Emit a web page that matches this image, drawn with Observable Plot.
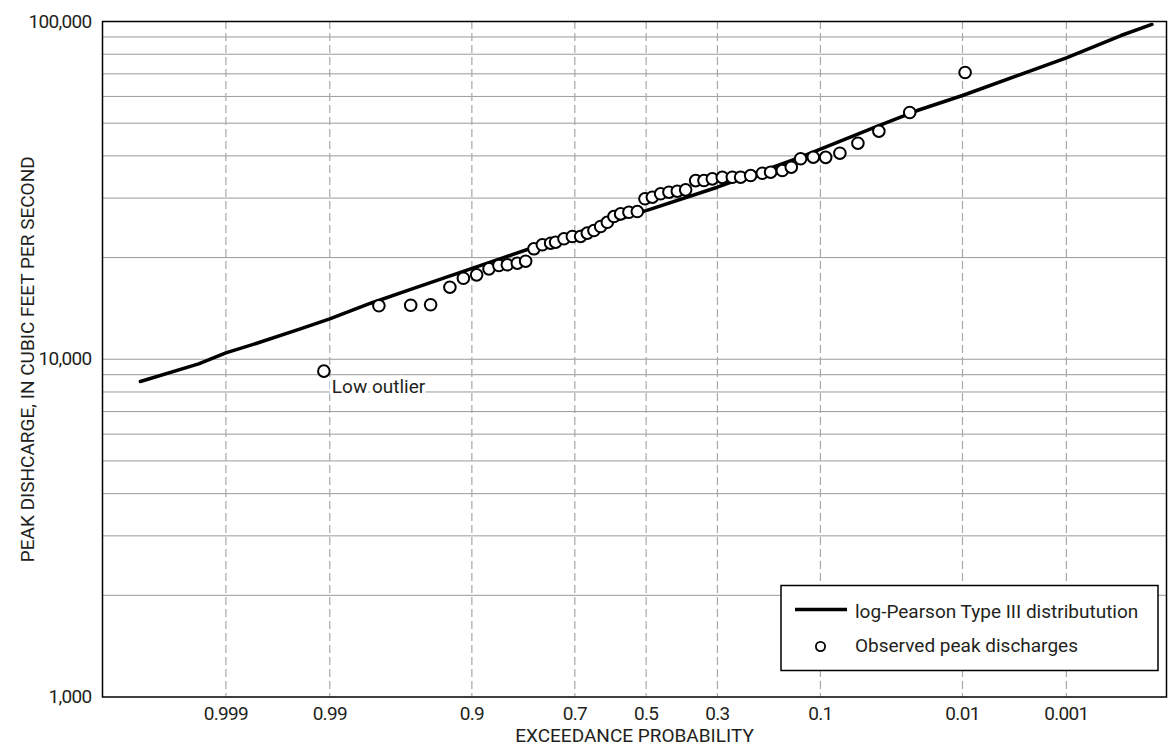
<!DOCTYPE html>
<html>
<head>
<meta charset="utf-8">
<script src="https://cdn.jsdelivr.net/npm/d3@7"></script>
<script src="https://cdn.jsdelivr.net/npm/@observablehq/plot@0.6"></script>
<style>
  body { margin: 0; background: #fff; }
  #chart { width: 1174px; height: 749px; }
  #chart svg { font-family: Roboto, "Liberation Sans", sans-serif; }
  #chart svg .tick-label text { letter-spacing: -0.7px; }
</style>
</head>
<body>
<div id="chart"></div>
<script>
// Exceedance-probability ticks and their labels
const probTicks = [0.999, 0.99, 0.9, 0.7, 0.5, 0.3, 0.1, 0.01, 0.001];
const probLabels = ["0.999", "0.99", "0.9", "0.7", "0.5", "0.3", "0.1", "0.01", "0.001"];
// Probability extent of the plotting frame (left, right)
const probExtent = [0.999968, 0.000065];

// Discharge ticks (labelled) and grid lines
const dischargeTicks = [1000, 10000, 100000];
const dischargeGrid = [2000, 3000, 4000, 5000, 6000, 7000, 8000, 9000, 10000,
  20000, 30000, 40000, 50000, 60000, 70000, 80000, 90000];

// Observed annual peak discharges with their plotting positions
const obsProb = [0.9911, 0.9753, 0.9583, 0.9435, 0.9255, 0.9105, 0.8937, 0.8761, 0.8605, 0.8463,
  0.8282, 0.8122, 0.7953, 0.7773, 0.7587, 0.7471, 0.7272, 0.7063, 0.6850, 0.6673,
  0.6494, 0.6310, 0.6123, 0.5936, 0.5744, 0.5503, 0.5258, 0.5035, 0.4818, 0.4576,
  0.4334, 0.4093, 0.3857, 0.3579, 0.3354, 0.3132, 0.2877, 0.2631, 0.2436, 0.2211,
  0.1964, 0.1800, 0.1583, 0.1429, 0.1280, 0.1095, 0.0934, 0.0771, 0.0597, 0.0435,
  0.0263, 0.0095];
const obsPeak = [9220, 14400, 14450, 14500, 16340, 17370, 17780, 18520, 18950, 19040,
  19250, 19510, 21230, 21820, 22060, 22210, 22730, 23090, 23100, 23620,
  24050, 24720, 25440, 26460, 26940, 27240, 27370, 29860, 30180, 30890,
  31230, 31440, 31740, 33800, 33820, 34210, 34550, 34580, 34600, 34990,
  35540, 35790, 36200, 37030, 39220, 39650, 39600, 40740, 43620, 47340,
  53770, 70630];

// Fitted log-Pearson Type III frequency curve
const fitProb = [0.9999, 0.9995, 0.999, 0.9979, 0.9945, 0.99, 0.9786, 0.9583, 0.9015, 0.7953,
  0.7038, 0.5, 0.3003, 0.128, 0.0435, 0.0231, 0.01, 0.001, 0.00024, 0.0001];
const fitPeak = [8590, 9690, 10440, 11150, 12300, 13170, 14650, 16100, 18520, 21460,
  23520, 27560, 32310, 39660, 49210, 54510, 60380, 78080, 90890, 98000];

const outlierLabel = "Low outlier";
const legendItems = ["log-Pearson Type III distributution", "Observed peak discharges"];

// Inverse standard normal CDF (Acklam's rational approximation)
function qnorm(p) {
  const a = [-39.69683028665376, 220.9460984245205, -275.9285104469687, 138.3577518672690, -30.66479806614716, 2.506628277459239];
  const b = [-54.47609879822406, 161.5858368580409, -155.6989798598866, 66.80131188771972, -13.28068155288572];
  const c = [-0.007784894002430293, -0.3223964580411365, -2.400758277161838, -2.549732539343734, 4.374664141464968, 2.938163982698783];
  const d = [0.007784695709041462, 0.3224671290700398, 2.445134137142996, 3.754408661907416];
  const pl = 0.02425, ph = 1 - pl;
  let q, r;
  if (p < pl) {
    q = Math.sqrt(-2 * Math.log(p));
    return (((((c[0]*q+c[1])*q+c[2])*q+c[3])*q+c[4])*q+c[5]) / ((((d[0]*q+d[1])*q+d[2])*q+d[3])*q+1);
  }
  if (p <= ph) {
    q = p - 0.5; r = q * q;
    return (((((a[0]*r+a[1])*r+a[2])*r+a[3])*r+a[4])*r+a[5])*q / (((((b[0]*r+b[1])*r+b[2])*r+b[3])*r+b[4])*r+1);
  }
  q = Math.sqrt(-2 * Math.log(1 - p));
  return -(((((c[0]*q+c[1])*q+c[2])*q+c[3])*q+c[4])*q+c[5]) / ((((d[0]*q+d[1])*q+d[2])*q+d[3])*q+1);
}
// Normal-probability position: exceedance probability decreases to the right
const probit = (p) => qnorm(1 - p);

const observed = obsProb.map((p, i) => ({p, q: obsPeak[i]}));
const fitted = fitProb.map((p, i) => ({p, q: fitPeak[i]}));
const tickZ = probTicks.map(probit);
const labelFor = new Map(tickZ.map((z, i) => [z, probLabels[i]]));

const W = 1174, H = 749;
const mL = 102, mR = 8, mT = 21, mB = 52.5;
const ink = "#231f20";

const chart = Plot.plot({
  width: W,
  height: H,
  marginLeft: mL,
  marginRight: mR,
  marginTop: mT,
  marginBottom: mB,
  style: {fontSize: "19px", color: ink, background: "#fff", overflow: "visible"},
  x: {type: "linear", domain: probExtent.map(probit)},
  y: {type: "log", domain: [1000, 100000]},
  marks: [
    Plot.gridY(dischargeGrid, {stroke: "#9a9a9a", strokeOpacity: 1, strokeWidth: 1}),
    Plot.gridX(tickZ, {stroke: "#a8a8a8", strokeOpacity: 1, strokeWidth: 1.2, strokeDasharray: "8,4"}),
    Plot.axisX(tickZ, {
      tickSize: 0, tickPadding: 9, fontSize: 19, className: "tick-label",
      tickFormat: (z) => labelFor.get(z),
      label: null
    }),
    Plot.axisX({
      ticks: [], label: "EXCEEDANCE PROBABILITY", labelAnchor: "center", labelArrow: false,
      labelOffset: 45, fontSize: 19, tickSize: 0
    }),
    Plot.axisY(dischargeTicks, {
      tickSize: 0, tickPadding: 11, fontSize: 19, className: "tick-label",
      tickFormat: d3.format(","),
      label: null
    }),
    Plot.axisY({
      ticks: [], label: "PEAK DISHCARGE, IN CUBIC FEET PER SECOND", labelAnchor: "center", labelArrow: false,
      labelOffset: 82, fontSize: 19, tickSize: 0
    }),
    Plot.line(fitted, {x: (d) => probit(d.p), y: "q", stroke: "#000", strokeWidth: 3.5, curve: "linear"}),
    Plot.dot(observed, {x: (d) => probit(d.p), y: "q", r: 5.8, fill: "#fff", stroke: "#000", strokeWidth: 2}),
    Plot.text([observed[0]], {
      x: (d) => probit(d.p), y: "q", text: () => outlierLabel,
      textAnchor: "start", lineAnchor: "middle", dx: 8, dy: 16,
      fontSize: 19, fill: ink, stroke: "#fff", strokeWidth: 7
    }),
    Plot.frame({stroke: "#000", strokeWidth: 1.5})
  ]
});

// Legend box in the lower-right corner of the plotting frame
const svg = d3.select(chart);
const lw = 377, lh = 85;
const lx = W - mR - 8 - lw, ly = H - mB - 26 - lh;
const g = svg.append("g").attr("transform", `translate(${lx},${ly})`)
  .attr("text-anchor", "start");
g.append("rect").attr("width", lw).attr("height", lh)
  .attr("fill", "#fff").attr("stroke", "#000").attr("stroke-width", 1.5);
g.append("line").attr("x1", 14).attr("x2", 66).attr("y1", 24).attr("y2", 24)
  .attr("stroke", "#000").attr("stroke-width", 3.5);
g.append("circle").attr("cx", 39.5).attr("cy", 61).attr("r", 4.6)
  .attr("fill", "#fff").attr("stroke", "#000").attr("stroke-width", 1.8);
g.selectAll("text.item").data(legendItems).join("text")
  .attr("class", "item")
  .attr("x", 74).attr("y", (d, i) => i ? 60 : 26)
  .attr("dy", "0.35em")
  .attr("text-anchor", "start")
  .attr("fill", ink).attr("font-size", 19)
  .text((d) => d);

document.getElementById("chart").appendChild(chart);
</script>
</body>
</html>
